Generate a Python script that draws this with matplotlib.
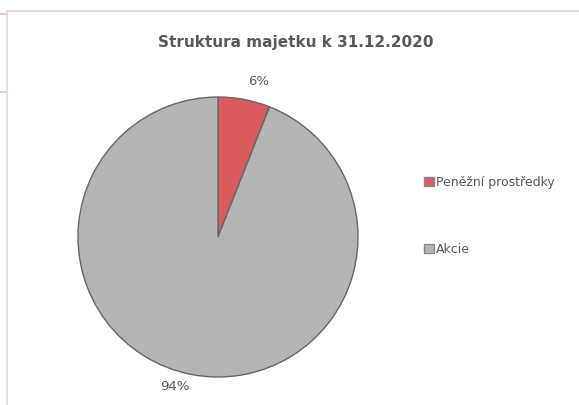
import matplotlib
matplotlib.use("Agg")
import matplotlib.pyplot as plt
from matplotlib.patches import Patch, Rectangle

categories = ["Peněžní prostředky", "Akcie"]
values = [6, 94]
colors = ["#d95b5d", "#b4b4b4"]
title = "Struktura majetku k 31.12.2020"

W, H = 579, 405
fig = plt.figure(figsize=(W / 100, H / 100), dpi=100)
fig.patch.set_facecolor("white")

# chart frame
fig.add_artist(Rectangle((7 / W, -0.01), 1.0, (H - 11) / H + 0.01, transform=fig.transFigure,
                         fill=False, edgecolor="#d9d9d9", linewidth=1.2))
# faint spreadsheet marks
for y in (14, 92):
    fig.add_artist(plt.Line2D([0, 6 / W], [1 - y / H, 1 - y / H], transform=fig.transFigure,
                              color="#f4c7c7", linewidth=1.5))

cx, cy, r = 218, 237, 140
ax = fig.add_axes([(cx - r) / W, (H - cy - r) / H, 2 * r / W, 2 * r / H])
wedges, texts, autotexts = ax.pie(values, colors=colors, startangle=90, counterclock=False,
                                  autopct=lambda p: f"{p:.0f}%", pctdistance=1.11,
                                  wedgeprops=dict(edgecolor="#666666", linewidth=1.0),
                                  textprops=dict(color="#595959", fontsize=9.5))
# Excel-like label placement nudges
x0, y0 = autotexts[0].get_position()
autotexts[0].set_position((x0 + 0.08, y0 + 0.02))
x1, y1 = autotexts[1].get_position()
autotexts[1].set_position((x1 - 0.1, y1 + 0.02))
ax.set_xlim(-1, 1)
ax.set_ylim(-1, 1)
ax.set_aspect("equal")
ax.axis("off")

fig.text(296 / W, 1 - 42 / H, title, ha="center", va="center", fontsize=11,
         fontweight="bold", color="#595959")

handles = [Patch(facecolor=c, edgecolor="#888888") for c in colors]
fig.legend(handles, categories, loc="upper left", bbox_to_anchor=(413 / W, 1 - 165 / H),
           frameon=False, fontsize=9, handlelength=0.75, handleheight=0.75,
           handletextpad=0.15, labelspacing=4.3, labelcolor="#595959")

fig.savefig("out.png", dpi=100)
